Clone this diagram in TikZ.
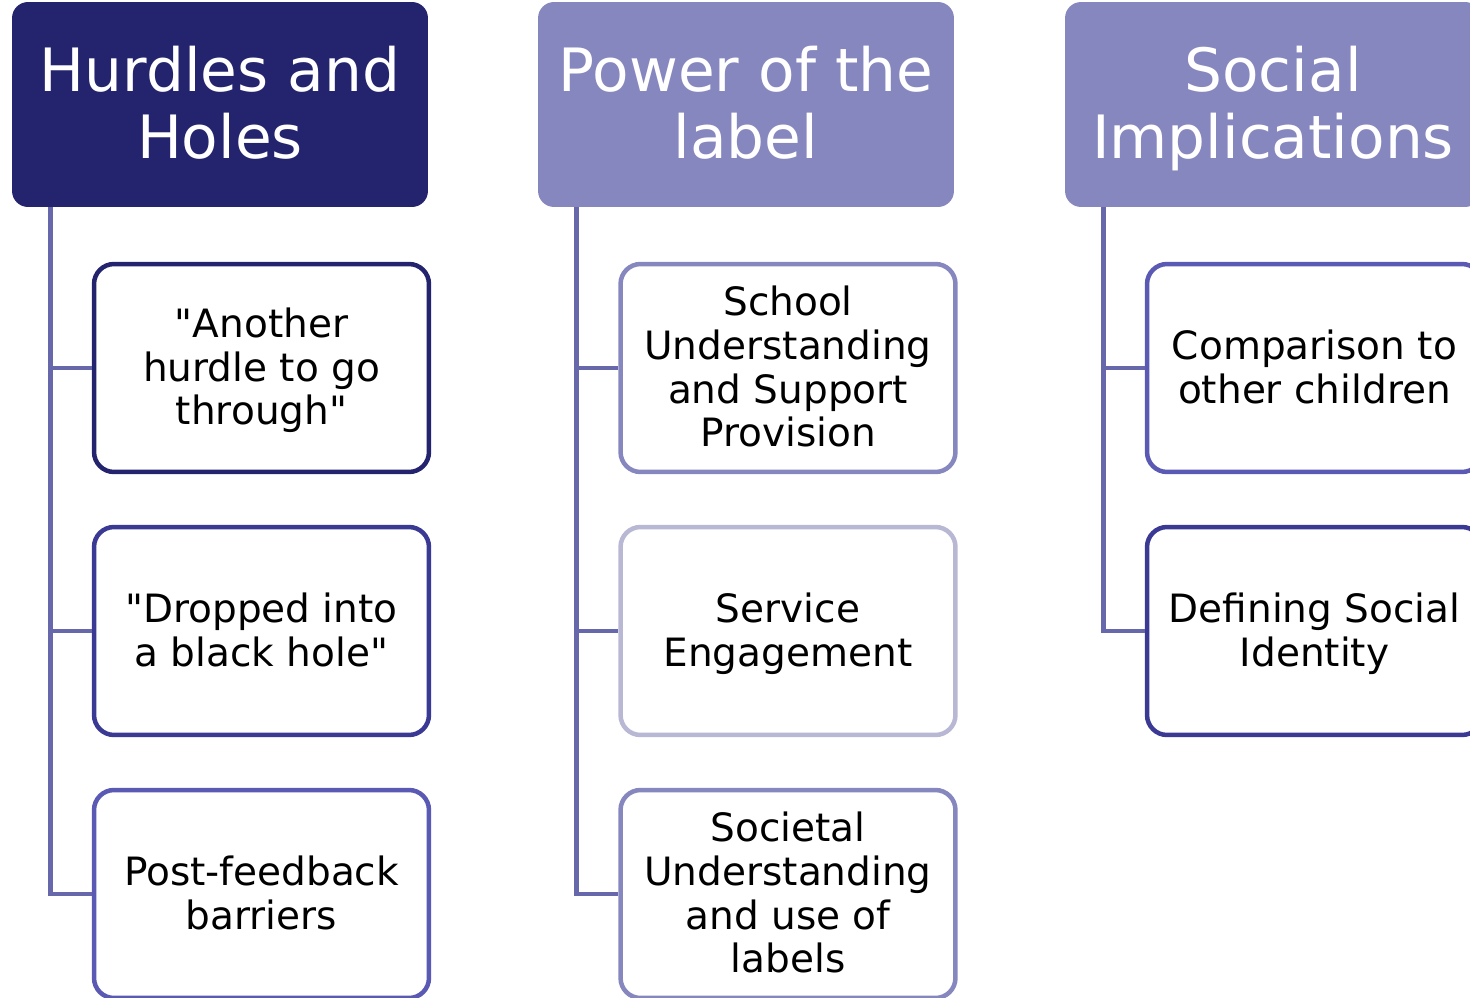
\documentclass[tikz,border=0pt]{standalone}
\usepackage{fontspec}
\setmainfont{DejaVu Sans}[Ligatures=TeXOff]
\usetikzlibrary{positioning}
\definecolor{navy}{HTML}{24246E}
\definecolor{lilac}{HTML}{8787BF}
\definecolor{midblue}{HTML}{3A3A94}
\definecolor{brightblue}{HTML}{5A5AB4}
\definecolor{paleblue}{HTML}{B8B8D4}
\definecolor{stem}{HTML}{6767AB}
% fixed text depth, so descenders do not move the lines
\tikzstyle{head}=[rectangle, rounded corners=0.32cm, minimum width=8.32cm, minimum height=4.1cm, inner sep=0pt, text=white, align=center, font=\fontsize{34}{38}\selectfont, text depth=2.9pt]
\tikzstyle{item}=[rectangle, rounded corners=0.4cm, draw, line width=0.09cm, fill=white, minimum width=6.7cm, minimum height=4.16cm, inner sep=0pt, align=center, font=\fontsize{22.2}{25}\selectfont, text depth=2pt]
\tikzstyle{link}=[draw=stem, line width=0.09cm]

\begin{document}
\begin{tikzpicture}[x=0.02cm, y=-0.02cm]
      \useasboundingbox (0,0) rectangle (1470,997);
      \clip (0,0) rectangle (1470,997);
      %
      \node at (220,104.5) [head, fill=navy] (hurdles) {Hurdles and\\Holes};
      \node at (746,104.5) [head, fill=lilac] (power) {Power of the\\label};
      \node at (1273,104.5) [head, fill=lilac] (social) {Social\\Implications};
      %
      \node at (261.5,368) [item, draw=navy] (another) {"Another\\hurdle to go\\through"};
      \node at (261.5,631) [item, draw=midblue] (dropped) {"Dropped into\\a black hole"};
      \node at (261.5,894) [item, draw=brightblue] (post) {Post-feedback\\barriers};
      %
      \node at (788,368) [item, draw=lilac] (school) {School\\Understanding\\and Support\\Provision};
      \node at (788,631) [item, draw=paleblue] (service) {Service\\Engagement};
      \node at (788,894) [item, draw=lilac] (societal) {Societal\\Understanding\\and use of\\labels};
      %
      \node at (1314.5,368) [item, draw=brightblue] (compare) {Comparison to\\other children};
      \node at (1314.5,631) [item, draw=midblue] (identity) {Defining Social\\Identity};
      %
      \foreach \h/\c in {hurdles/another, hurdles/dropped, hurdles/post, power/school, power/service, power/societal, social/compare, social/identity}
        \draw[link] ([xshift=0.78cm]\h.south west) |- (\c.west);
      \end{tikzpicture}
\end{document}
